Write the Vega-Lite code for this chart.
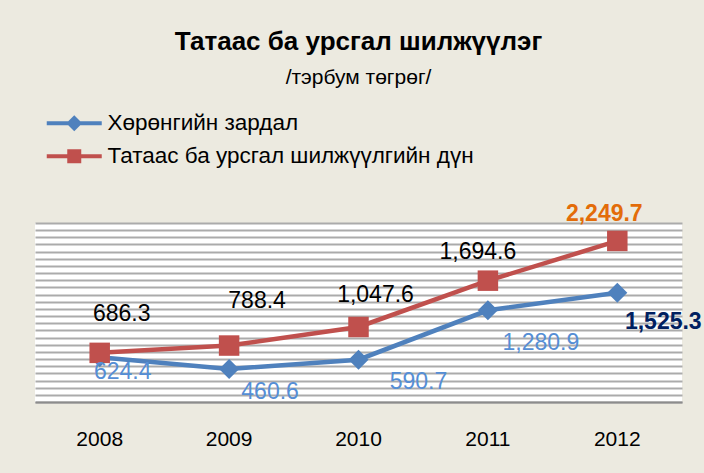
{
  "$schema": "https://vega.github.io/schema/vega-lite/v6.json",
  "autosize": {"type": "none"},
  "width": 647,
  "height": 179,
  "padding": {"left": 35, "top": 223, "right": 22, "bottom": 71},
  "background": "#ECEAE0",
  "config": {"view": {"fill": "white", "stroke": null}, "font": "Liberation Sans"},
  "title": {
    "text": "Татаас ба урсгал шилжүүлэг",
    "subtitle": "/тэрбум төгрөг/",
    "anchor": "middle",
    "frame": "group",
    "fontSize": 26,
    "fontWeight": "bold",
    "font": "Liberation Sans",
    "color": "black",
    "subtitleFont": "Liberation Sans",
    "subtitleFontSize": 21,
    "subtitleColor": "black",
    "subtitlePadding": 12,
    "offset": 24
  },
  "data": {
    "values": [
      {"year": 2008, "series": "Хөрөнгийн зардал", "value": 624.4},
      {"year": 2009, "series": "Хөрөнгийн зардал", "value": 460.6},
      {"year": 2010, "series": "Хөрөнгийн зардал", "value": 590.7},
      {"year": 2011, "series": "Хөрөнгийн зардал", "value": 1280.9},
      {"year": 2012, "series": "Хөрөнгийн зардал", "value": 1525.3},
      {"year": 2008, "series": "Татаас ба урсгал шилжүүлгийн дүн", "value": 686.3},
      {"year": 2009, "series": "Татаас ба урсгал шилжүүлгийн дүн", "value": 788.4},
      {"year": 2010, "series": "Татаас ба урсгал шилжүүлгийн дүн", "value": 1047.6},
      {"year": 2011, "series": "Татаас ба урсгал шилжүүлгийн дүн", "value": 1694.6},
      {"year": 2012, "series": "Татаас ба урсгал шилжүүлгийн дүн", "value": 2249.7}
    ]
  },
  "encoding": {
    "x": {
      "field": "year",
      "type": "ordinal",
      "scale": {"type": "band", "paddingInner": 0, "paddingOuter": 0},
      "axis": {
        "title": null,
        "labelAngle": 0,
        "ticks": false,
        "grid": false,
        "domainColor": "#8C8C8C",
        "domainWidth": 2,
        "labelFont": "Liberation Sans",
        "labelFontSize": 21,
        "labelColor": "black",
        "labelPadding": 26
      }
    },
    "y": {
      "field": "value",
      "type": "quantitative",
      "scale": {"domain": [0, 2500], "nice": false},
      "axis": {
        "values": [0, 100, 200, 300, 400, 500, 600, 700, 800, 900, 1000, 1100, 1200, 1300, 1400, 1500, 1600, 1700, 1800, 1900, 2000, 2100, 2200, 2300, 2400, 2500],
        "labels": false,
        "ticks": false,
        "domain": false,
        "title": null,
        "grid": true,
        "gridColor": "#ABABAB",
        "gridWidth": 1.8
      }
    }
  },
  "layer": [
    {
      "transform": [{"filter": "datum.series === 'Хөрөнгийн зардал'"}],
      "mark": {"type": "line", "strokeWidth": 4.5, "color": "#4F81BD"},
      "encoding": {}
    },
    {
      "transform": [{"filter": "datum.series === 'Татаас ба урсгал шилжүүлгийн дүн'"}],
      "mark": {"type": "line", "strokeWidth": 4.5, "color": "#C0504D"},
      "encoding": {}
    },
    {
      "transform": [{"filter": "datum.series === 'Хөрөнгийн зардал'"}],
      "mark": {"type": "point", "filled": true, "size": 400, "opacity": 1, "shape": "diamond", "color": "#4F81BD"},
      "encoding": {}
    },
    {
      "transform": [{"filter": "datum.series === 'Татаас ба урсгал шилжүүлгийн дүн'"}],
      "mark": {"type": "point", "filled": true, "size": 420, "opacity": 1, "shape": "square", "color": "#C0504D"},
      "encoding": {}
    },
    {
      "mark": {"type": "point", "filled": true, "size": 400, "opacity": 0},
      "encoding": {
        "color": {
          "field": "series",
          "type": "nominal",
          "sort": null,
          "scale": {"domain": ["Хөрөнгийн зардал", "Татаас ба урсгал шилжүүлгийн дүн"], "range": ["#4F81BD", "#C0504D"]},
          "legend": {
            "orient": "none",
            "legendX": 28,
            "legendY": -111,
            "title": null,
            "padding": 0,
            "labelFont": "Liberation Sans",
            "labelFontSize": 22.5,
            "labelColor": "black",
            "labelLimit": 600,
            "symbolSize": 400,
            "symbolOpacity": 1,
            "symbolStrokeWidth": 0,
            "labelOffset": 22,
            "rowPadding": 10
          }
        },
        "shape": {
          "field": "series",
          "type": "nominal",
          "sort": null,
          "scale": {
            "domain": ["Хөрөнгийн зардал", "Татаас ба урсгал шилжүүлгийн дүн"],
            "range": ["M-2.75,-0.2H2.75V0.2H-2.75Z M0,-0.8L0.8,0L0,0.8L-0.8,0Z", "M-2.75,-0.2H2.75V0.2H-2.75Z M-0.7,-0.7H0.7V0.7H-0.7Z"]
          },
          "legend": {
            "orient": "none",
            "legendX": 28,
            "legendY": -111,
            "title": null,
            "padding": 0,
            "labelFont": "Liberation Sans",
            "labelFontSize": 22.5,
            "labelColor": "black",
            "labelLimit": 600,
            "symbolSize": 400,
            "symbolOpacity": 1,
            "symbolStrokeWidth": 0,
            "labelOffset": 22,
            "rowPadding": 10
          }
        }
      }
    },
    {
      "transform": [{"filter": "datum.series === 'Татаас ба урсгал шилжүүлгийн дүн' && datum.year === 2008"}],
      "mark": {"type": "text", "dx": 22, "dy": -39, "fontSize": 23, "color": "black"},
      "encoding": {"text": {"field": "value", "type": "quantitative", "format": ",.1f"}}
    },
    {
      "transform": [{"filter": "datum.series === 'Татаас ба урсгал шилжүүлгийн дүн' && datum.year === 2009"}],
      "mark": {"type": "text", "dx": 28, "dy": -45, "fontSize": 23, "color": "black"},
      "encoding": {"text": {"field": "value", "type": "quantitative", "format": ",.1f"}}
    },
    {
      "transform": [{"filter": "datum.series === 'Татаас ба урсгал шилжүүлгийн дүн' && datum.year === 2010"}],
      "mark": {"type": "text", "dx": 17, "dy": -32, "fontSize": 23, "color": "black"},
      "encoding": {"text": {"field": "value", "type": "quantitative", "format": ",.1f"}}
    },
    {
      "transform": [{"filter": "datum.series === 'Татаас ба урсгал шилжүүлгийн дүн' && datum.year === 2011"}],
      "mark": {"type": "text", "dx": -10, "dy": -29, "fontSize": 23, "color": "black"},
      "encoding": {"text": {"field": "value", "type": "quantitative", "format": ",.1f"}}
    },
    {
      "transform": [{"filter": "datum.series === 'Татаас ба урсгал шилжүүлгийн дүн' && datum.year === 2012"}],
      "mark": {"type": "text", "dx": -13, "dy": -27, "fontSize": 23, "fontWeight": "bold", "color": "#E36C09"},
      "encoding": {"text": {"field": "value", "type": "quantitative", "format": ",.1f"}}
    },
    {
      "transform": [{"filter": "datum.series === 'Хөрөнгийн зардал' && datum.year === 2008"}],
      "mark": {"type": "text", "dx": 23, "dy": 15, "fontSize": 23, "color": "#558ED5"},
      "encoding": {"text": {"field": "value", "type": "quantitative", "format": ",.1f"}}
    },
    {
      "transform": [{"filter": "datum.series === 'Хөрөнгийн зардал' && datum.year === 2009"}],
      "mark": {"type": "text", "dx": 41, "dy": 23, "fontSize": 23, "color": "#558ED5"},
      "encoding": {"text": {"field": "value", "type": "quantitative", "format": ",.1f"}}
    },
    {
      "transform": [{"filter": "datum.series === 'Хөрөнгийн зардал' && datum.year === 2010"}],
      "mark": {"type": "text", "dx": 60, "dy": 22, "fontSize": 23, "color": "#558ED5"},
      "encoding": {"text": {"field": "value", "type": "quantitative", "format": ",.1f"}}
    },
    {
      "transform": [{"filter": "datum.series === 'Хөрөнгийн зардал' && datum.year === 2011"}],
      "mark": {"type": "text", "dx": 53, "dy": 33, "fontSize": 23, "color": "#558ED5"},
      "encoding": {"text": {"field": "value", "type": "quantitative", "format": ",.1f"}}
    },
    {
      "transform": [{"filter": "datum.series === 'Хөрөнгийн зардал' && datum.year === 2012"}],
      "mark": {"type": "text", "dx": 46, "dy": 29, "fontSize": 23, "fontWeight": "bold", "color": "#002060"},
      "encoding": {"text": {"field": "value", "type": "quantitative", "format": ",.1f"}}
    }
  ]
}
